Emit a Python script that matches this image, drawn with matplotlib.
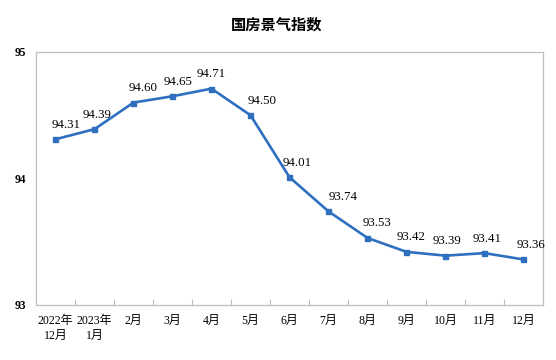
import numpy as np
import matplotlib.pyplot as plt
from matplotlib.ticker import FixedLocator

plt.rcParams['font.family'] = ['Liberation Serif', 'Noto Sans CJK SC']

months = ['2022年\n12月', '2023年\n1月', '2月', '3月', '4月', '5月', '6月',
          '7月', '8月', '9月', '10月', '11月', '12月']
index_values = [94.31, 94.39, 94.60, 94.65, 94.71, 94.50, 94.01,
                93.74, 93.53, 93.42, 93.39, 93.41, 93.36]

# label offsets in pixels (x), tuned by eye
label_dx = [11, 3, 10, 6, 0, 12, 8, 15, 10, 5, 2, 3, 8]

fig = plt.figure(figsize=(5.56, 3.6), dpi=100)
ax = fig.add_axes([0.0647, 0.1528, 0.9119, 0.7028])

x = np.arange(len(months))
ax.plot(x, index_values, color='#2E6FC0', lw=1.9, marker='s', ms=3.6)

px = 0.72
for i, v in enumerate(index_values):
    ax.annotate(f'{v:.2f}', (x[i], v), xytext=(label_dx[i] * px, 14.5 * px),
                textcoords='offset points', ha='center', va='center',
                fontsize=9.3, family='Liberation Serif')

ax.set_xlim(-0.5, len(months) - 0.5)
ax.set_ylim(93, 95)
ax.set_yticks([93, 94, 95])
ax.set_yticklabels(['93', '94', '95'], fontsize=8.3, fontweight='bold')
ax.tick_params(axis='y', length=0, pad=7)

ax.set_xticks(x)
ax.set_xticklabels(months, fontsize=8.6, linespacing=1.25)
ax.tick_params(axis='x', which='major', length=0, pad=7.5)
ax.xaxis.set_minor_locator(FixedLocator(np.arange(0.5, len(months) - 0.5, 1)))
ax.tick_params(axis='x', which='minor', direction='in', length=4,
               color='#BFBFBF', width=0.8)

for s in ax.spines.values():
    s.set_color('#BFBFBF')
    s.set_linewidth(0.9)

fig.text(0.498, 0.931, '国房景气指数', ha='center', va='center',
         fontsize=11, fontweight='bold', family='Noto Sans CJK SC')

fig.savefig('out.png', dpi=100)
